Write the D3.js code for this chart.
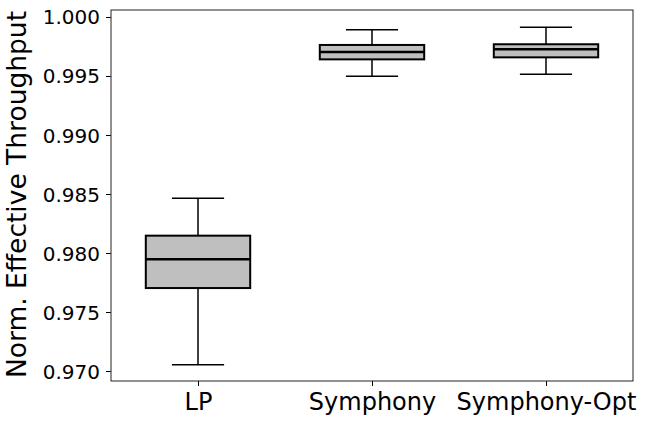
<!DOCTYPE html>
<html><head><meta charset="utf-8">
<script src="https://cdn.jsdelivr.net/npm/d3@7"></script>
<style>body{margin:0;background:#fff}svg{display:block}text{font-family:"DejaVu Sans",sans-serif;fill:#000}</style>
</head><body><svg id="c" width="647" height="424"></svg>
<script>
const categories = ["LP", "Symphony", "Symphony-Opt"];
const whiskerLow = [0.97053, 0.99497, 0.99514];
const q1 = [0.97703, 0.99641, 0.99658];
const median = [0.97947, 0.99703, 0.99726];
const q3 = [0.98147, 0.99763, 0.99769];
const whiskerHigh = [0.98464, 0.99892, 0.99913];
const yTicks = [0.970, 0.975, 0.980, 0.985, 0.990, 0.995, 1.000];

const svg = d3.select("#c");
const m = {l:111, r:633, t:10, b:381};
const x = d3.scaleLinear().domain([0.5, 3.5]).range([m.l, m.r]);
const y = d3.scaleLinear().domain([0.969153, 1.000593]).range([m.b, m.t]);

const yAxis = svg.append("g").attr("transform", `translate(${m.l},0)`)
  .call(d3.axisLeft(y).tickValues(yTicks).tickFormat(d3.format(".3f")).tickSize(5).tickPadding(6));
yAxis.select(".domain").remove();
yAxis.selectAll("text").style("font-size","20px").attr("dy","0.35em");
yAxis.selectAll("line").attr("stroke","#000").attr("stroke-width",1);

const xAxis = svg.append("g").attr("transform", `translate(0,${m.b})`)
  .call(d3.axisBottom(x).tickValues([1,2,3]).tickFormat((d,i)=>categories[i]).tickSize(5).tickPadding(6));
xAxis.select(".domain").remove();
xAxis.selectAll("text").style("font-size","24px").attr("dy","0.75em");
xAxis.selectAll("line").attr("stroke","#000");

const bw = 0.6, cw = 0.3;
const g = svg.append("g");
categories.forEach((c,i)=>{
  const cx = x(i+1);
  const bx0 = x(i+1-bw/2), bx1 = x(i+1+bw/2);
  const cx0 = x(i+1-cw/2), cx1 = x(i+1+cw/2);
  g.append("line").attr("x1",cx).attr("x2",cx).attr("y1",y(whiskerHigh[i])).attr("y2",y(q3[i])).attr("stroke","#000").attr("stroke-width",1.5);
  g.append("line").attr("x1",cx).attr("x2",cx).attr("y1",y(q1[i])).attr("y2",y(whiskerLow[i])).attr("stroke","#000").attr("stroke-width",1.5);
  g.append("line").attr("x1",cx0).attr("x2",cx1).attr("y1",y(whiskerHigh[i])).attr("y2",y(whiskerHigh[i])).attr("stroke","#000").attr("stroke-width",1.5);
  g.append("line").attr("x1",cx0).attr("x2",cx1).attr("y1",y(whiskerLow[i])).attr("y2",y(whiskerLow[i])).attr("stroke","#000").attr("stroke-width",1.5);
  g.append("rect").attr("x",bx0).attr("width",bx1-bx0).attr("y",y(q3[i])).attr("height",y(q1[i])-y(q3[i]))
    .attr("fill","#bfbfbf").attr("stroke","#000").attr("stroke-width",2);
  g.append("line").attr("x1",bx0).attr("x2",bx1).attr("y1",y(median[i])).attr("y2",y(median[i])).attr("stroke","#000").attr("stroke-width",2.5);
});

svg.append("rect").attr("x",m.l).attr("y",m.t).attr("width",m.r-m.l).attr("height",m.b-m.t)
  .attr("fill","none").attr("stroke","#222").attr("stroke-width",1);

svg.append("text").attr("transform",`translate(26,${(11+378)/2}) rotate(-90)`)
  .attr("text-anchor","middle").style("font-size","26.5px").text("Norm. Effective Throughput");
</script></body></html>
